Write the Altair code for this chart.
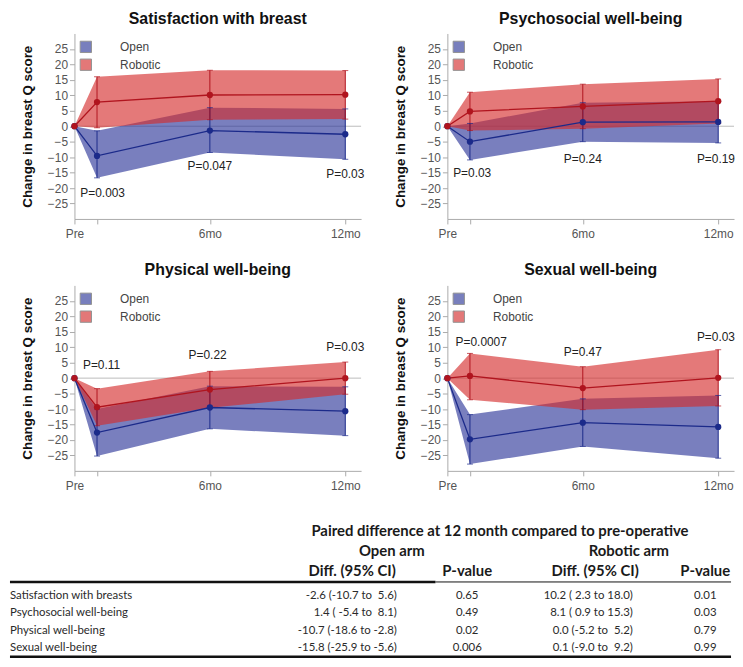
import altair as alt
import pandas as pd

# ---------------- data ----------------
TIMES = [0, 1, 6, 12]
ARMS = ["Open", "Robotic"]
PANEL_TITLES = ["Satisfaction with breast", "Psychosocial well-being",
                "Physical well-being", "Sexual well-being"]

OPEN_MEAN = [[0, -9.6, -1.4, -2.6], [0, -5.0, 1.3, 1.4],
             [0, -17.6, -9.5, -10.7], [0, -19.8, -14.4, -15.8]]
OPEN_LO = [[0, -16.7, -8.5, -10.7], [0, -10.9, -5.0, -5.4],
           [0, -25.2, -16.4, -18.6], [0, -27.8, -22.1, -25.9]]
OPEN_HI = [[0, -1.5, 6.0, 5.6], [0, 0.9, 7.6, 8.1],
           [0, -10.0, -2.6, -2.8], [0, -11.8, -6.7, -5.6]]

ROB_MEAN = [[0, 7.8, 10.1, 10.2], [0, 4.8, 6.4, 8.1],
            [0, -9.4, -3.7, 0.0], [0, 0.7, -3.2, 0.1]]
ROB_LO = [[0, -0.5, 2.1, 2.3], [0, -1.4, -0.8, 0.9],
          [0, -15.4, -9.6, -5.2], [0, -7.0, -10.2, -9.0]]
ROB_HI = [[0, 16.0, 18.1, 18.0], [0, 11.0, 13.6, 15.3],
          [0, -3.4, 2.2, 5.2], [0, 8.0, 3.7, 9.2]]

P_TEXT = [["P=0.003", "P=0.047", "P=0.03"],
          ["P=0.03", "P=0.24", "P=0.19"],
          ["P=0.11", "P=0.22", "P=0.03"],
          ["P=0.0007", "P=0.47", "P=0.03"]]
P_X = [[1.25, 6.0, 12.0], [1.1, 6.0, 11.9], [1.2, 5.9, 12.0], [1.5, 6.0, 11.9]]
P_Y = [[-21.5, -13.0, -15.6], [-15.1, -10.6, -10.6],
       [4.1, 7.4, 10.0], [11.8, 8.6, 13.2]]

TABLE_TITLE = "Paired difference at 12 month compared to pre-operative"
ARM_HEADERS = ["Open arm", "Robotic arm"]
COL_HEADERS = ["Diff. (95% CI)", "P-value", "Diff. (95% CI)", "P-value"]
TABLE_ROWS = ["Satisfaction with breasts", "Psychosocial well-being",
              "Physical well-being", "Sexual well-being"]
OPEN_DIFF = ["-2.6 (-10.7 to  5.6)", "1.4 ( -5.4 to  8.1)",
             "-10.7 (-18.6 to -2.8)", "-15.8 (-25.9 to -5.6)"]
OPEN_P = ["0.65", "0.49", "0.02", "0.006"]
ROB_DIFF = ["10.2 ( 2.3 to 18.0)", "8.1 ( 0.9 to 15.3)",
            "0.0 (-5.2 to  5.2)", "0.1 (-9.0 to  9.2)"]
ROB_P = ["0.01", "0.03", "0.79", "0.99"]

# ---------------- styles ----------------
FONT = "Liberation Sans"
TFONT = "Lato"
BAND_COLORS = ["#2a3598", "#d42a2a"]
LINE_COLORS = ["#1b2a8a", "#b0141e"]
PW, PH = 289, 187


def make_panel(i):
    recs = []
    for arm, M, L, H in (("Open", OPEN_MEAN, OPEN_LO, OPEN_HI),
                         ("Robotic", ROB_MEAN, ROB_LO, ROB_HI)):
        for t, m, lo, hi in zip(TIMES, M[i], L[i], H[i]):
            recs.append(dict(t=t, arm=arm, mean=m, lo=lo, hi=hi))
    df = pd.DataFrame(recs)

    xs = alt.Scale(domain=[0, 12.7], nice=False, zero=False)
    ys = alt.Scale(domain=[-30, 30], nice=False, zero=False)
    xax = alt.Axis(values=[0, 1, 6, 12],
                   labelExpr="datum.value == 0 ? 'Pre' : datum.value == 6 ? '6mo' : datum.value == 12 ? '12mo' : ''",
                   title=None, grid=False, domainColor="#aaaaaa", tickColor="#aaaaaa",
                   tickSize=5, labelPadding=5, labelColor="#555555", labelFontSize=12,
                   labelFont=FONT, labelFlush=False)
    yax = alt.Axis(values=list(range(-25, 30, 5)), title="Change in breast Q score",
                   grid=False, domainColor="#aaaaaa", tickColor="#aaaaaa", tickSize=5,
                   labelPadding=2, labelColor="#555555", labelFontSize=12, labelFont=FONT,
                   titleFont=FONT, titleFontSize=13.5, titleFontWeight="bold",
                   titleColor="#111111", titlePadding=13)

    def X(f):
        return alt.X(f"{f}:Q", scale=xs, axis=xax)

    def Y(f):
        return alt.Y(f"{f}:Q", scale=ys, axis=yax)

    color = alt.Color("arm:N", scale=alt.Scale(domain=ARMS, range=BAND_COLORS),
                      legend=alt.Legend(title=None, orient="none", legendX=5, legendY=7,
                                        padding=0, symbolType="square", symbolSize=130,
                                        symbolStrokeWidth=1, symbolStrokeColor="#555555",
                                        labelOffset=28, rowPadding=1,
                                        labelFontSize=12, labelFont=FONT,
                                        labelColor="#444444"))
    stroke = alt.Stroke("arm:N", scale=alt.Scale(domain=ARMS, range=LINE_COLORS), legend=None)
    fill = alt.Fill("arm:N", scale=alt.Scale(domain=ARMS, range=LINE_COLORS), legend=None)

    zero = alt.Chart(pd.DataFrame({"z": [0]})).mark_rule(
        color="#bbbbbb", strokeWidth=1).encode(y=Y("z"))
    band_o = alt.Chart(df).transform_filter("datum.arm == 'Open'").mark_area(
        opacity=0.63).encode(x=X("t"), y=Y("lo"), y2="hi:Q", color=color)
    band_r = alt.Chart(df).transform_filter("datum.arm == 'Robotic'").mark_area(
        opacity=0.63).encode(x=X("t"), y=Y("lo"), y2="hi:Q", color=color)
    err = alt.Chart(df).transform_filter("datum.t > 0").mark_rule(strokeWidth=1).encode(
        x=X("t"), y=Y("lo"), y2="hi:Q", stroke=stroke)
    cap_lo = alt.Chart(df).transform_filter("datum.t > 0").mark_tick(
        orient="horizontal", size=6, thickness=1).encode(x=X("t"), y=Y("lo"), fill=fill)
    cap_hi = alt.Chart(df).transform_filter("datum.t > 0").mark_tick(
        orient="horizontal", size=6, thickness=1).encode(x=X("t"), y=Y("hi"), fill=fill)
    lines = alt.Chart(df).mark_line(strokeWidth=1.3).encode(
        x=X("t"), y=Y("mean"), stroke=stroke)
    pts = alt.Chart(df).mark_circle(size=40, opacity=1).encode(
        x=X("t"), y=Y("mean"), fill=fill)
    pdf = pd.DataFrame({"x": P_X[i], "y": P_Y[i], "label": P_TEXT[i]})
    ptxt = alt.Chart(pdf).mark_text(fontSize=12, font=FONT, color="#222222").encode(
        x=X("x"), y=Y("y"), text="label:N")

    return alt.layer(zero, band_o, band_r, err, cap_lo, cap_hi, lines, pts, ptxt).properties(
        width=PW, height=PH,
        title=alt.Title(PANEL_TITLES[i], font=FONT, fontSize=16, fontWeight="bold",
                        color="#111111", anchor="middle", offset=7))


panels = [make_panel(i) for i in range(4)]
row1 = alt.hconcat(panels[0], panels[1], spacing=28).resolve_scale(color="independent")
row2 = alt.hconcat(panels[2], panels[3], spacing=28).resolve_scale(color="independent")
grid = alt.vconcat(row1, row2, spacing=23).resolve_scale(color="independent")

# ---------------- table ----------------
TW, TH = 662, 147


def nb(s):
    return s.replace("  ", " \u00a0")


tdf = pd.DataFrame({"row": TABLE_ROWS,
                    "open_diff": [nb(s) for s in OPEN_DIFF],
                    "open_p": OPEN_P,
                    "rob_diff": [nb(s) for s in ROB_DIFF],
                    "rob_p": ROB_P})
ry = alt.Y("row:N", scale=alt.Scale(type="point", domain=TABLE_ROWS, range=[84, 137],
                                    padding=0), axis=None)


def body(field, xpx, align):
    return alt.Chart(tdf).mark_text(font=TFONT, fontSize=11.5, align=align, baseline="middle",
                                    color="#2a2a2a").encode(
        x=alt.value(xpx), y=ry, text=f"{field}:N")


def hdr(text, xpx, ypx):
    return alt.Chart(pd.DataFrame({"t": [text]})).mark_text(
        font=TFONT, fontSize=15, fontWeight="bold", align="center", baseline="middle",
        color="#1a1a1a").encode(x=alt.value(xpx), y=alt.value(ypx), text="t:N")


def rule(x1, x2, ypx, w):
    return alt.Chart(pd.DataFrame({"d": [0]})).mark_rule(color="#111111", strokeWidth=w).encode(
        x=alt.value(x1), x2=alt.value(x2), y=alt.value(ypx))


table = alt.layer(
    hdr(TABLE_TITLE, 429, 19),
    hdr(ARM_HEADERS[0], 320, 39),
    hdr(ARM_HEADERS[1], 559, 39),
    hdr(COL_HEADERS[0], 280, 59),
    hdr(COL_HEADERS[1], 396, 59),
    hdr(COL_HEADERS[2], 525, 59),
    hdr(COL_HEADERS[3], 636, 59),
    rule(-65, 364, 70, 2.5),
    rule(364, TW, 70, 1),
    rule(-65, TW, 145.5, 2.5),
    body("row", -65, "left"),
    body("open_diff", 325, "right"),
    body("open_p", 396, "center"),
    body("rob_diff", 563, "right"),
    body("rob_p", 636, "center"),
).properties(width=TW, height=TH)

chart = alt.vconcat(grid, table, spacing=21).resolve_scale(color="independent").properties(
    padding=0).configure_view(stroke=None)

chart.save("out.html", embed_options={"renderer": "svg", "actions": False})
